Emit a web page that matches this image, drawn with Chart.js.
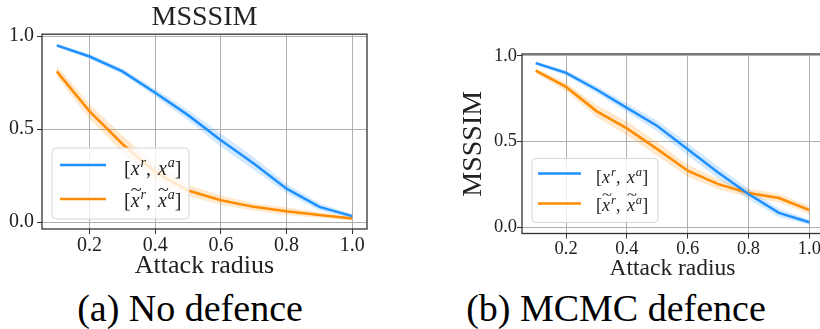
<!DOCTYPE html>
<html>
<head>
<meta charset="utf-8">
<script src="https://cdn.jsdelivr.net/npm/chart.js@4.4.1/dist/chart.umd.min.js"></script>
<style>
	html, body { margin: 0; padding: 0; background: #fff; }
	#wrap { position: relative; width: 820px; height: 329px; overflow: hidden; }
	canvas { position: absolute; top: 0; }
	.cap { position: absolute; top: 289px; font: 38px 'Liberation Serif', serif; line-height: 38px; color: #000; text-align: center; white-space: nowrap; }
</style>
</head>
<body>
<div id="wrap">
	<canvas id="left" width="380" height="285" style="left:0px"></canvas>
	<canvas id="right" width="400" height="285" style="left:440px"></canvas>
	<div class="cap" style="left:40px;width:300px">(a) No defence</div>
	<div class="cap" style="left:466px;width:300px">(b) MCMC defence</div>
</div>
<script>
// attack radius
const radius = [0.1, 0.2, 0.3, 0.4, 0.5, 0.6, 0.7, 0.8, 0.9, 1.0];
const xTicks = [0.2, 0.4, 0.6, 0.8, 1.0];
const yTicks = [0.0, 0.5, 1.0];
const seriesLabels = ['[xʳ, xᵃ]', '[x̃ʳ, x̃ᵃ]'];

// (a) no defence
const noDefReal = [0.95, 0.89, 0.81, 0.695, 0.575, 0.44, 0.315, 0.18, 0.082, 0.032];
const noDefRealLow = [0.94, 0.878, 0.795, 0.675, 0.547, 0.405, 0.282, 0.155, 0.062, 0.022];
const noDefRealHigh = [0.96, 0.902, 0.825, 0.715, 0.603, 0.475, 0.348, 0.205, 0.102, 0.042];
const noDefTilde = [0.81, 0.595, 0.42, 0.27, 0.17, 0.118, 0.082, 0.058, 0.038, 0.02];
const noDefTildeLow = [0.78, 0.555, 0.375, 0.23, 0.14, 0.093, 0.062, 0.038, 0.023, 0.01];
const noDefTildeHigh = [0.84, 0.635, 0.465, 0.31, 0.2, 0.143, 0.102, 0.078, 0.053, 0.03];

// (b) MCMC defence
const mcmcReal = [0.957, 0.90, 0.803, 0.696, 0.59, 0.455, 0.319, 0.193, 0.083, 0.029];
const mcmcRealLow = [0.947, 0.885, 0.783, 0.671, 0.56, 0.42, 0.284, 0.163, 0.058, 0.014];
const mcmcRealHigh = [0.967, 0.915, 0.823, 0.721, 0.62, 0.49, 0.354, 0.223, 0.108, 0.044];
const mcmcTilde = [0.913, 0.818, 0.677, 0.576, 0.455, 0.329, 0.251, 0.199, 0.17, 0.10];
const mcmcTildeLow = [0.898, 0.793, 0.642, 0.536, 0.415, 0.294, 0.221, 0.174, 0.145, 0.075];
const mcmcTildeHigh = [0.928, 0.843, 0.712, 0.616, 0.495, 0.364, 0.281, 0.224, 0.195, 0.125];

const BLUE = '#1e90ff';
const ORANGE = '#ff8c00';
const SERIF = "'Liberation Serif', serif";

Chart.defaults.font.family = SERIF;
Chart.defaults.color = '#222';

function pts(ys) {
	return radius.map((x, i) => ({ x: x, y: ys[i] }));
}

function makeDatasets(real, realLo, realHi, tilde, tildeLo, tildeHi) {
	return [
		{ label: seriesLabels[0], data: pts(real), borderColor: BLUE, borderWidth: 2.5, pointRadius: 0, fill: false, order: 0 },
		{ label: seriesLabels[1], data: pts(tilde), borderColor: ORANGE, borderWidth: 2.5, pointRadius: 0, fill: false, order: 0 },
		{ label: 'lo1', data: pts(realLo), borderWidth: 0, pointRadius: 0, fill: false, order: 1 },
		{ label: 'hi1', data: pts(realHi), borderWidth: 0, pointRadius: 0, fill: { target: 2 }, backgroundColor: 'rgba(30,144,255,0.2)', order: 1 },
		{ label: 'lo2', data: pts(tildeLo), borderWidth: 0, pointRadius: 0, fill: false, order: 1 },
		{ label: 'hi2', data: pts(tildeHi), borderWidth: 0, pointRadius: 0, fill: { target: 4 }, backgroundColor: 'rgba(255,140,0,0.2)', order: 1 },
	];
}

// box around the plot, like matplotlib spines
const framePlugin = {
	id: 'frame',
	afterDatasetsDraw(chart) {
		const a = chart.chartArea, ctx = chart.ctx;
		ctx.save();
		ctx.strokeStyle = '#333';
		ctx.lineWidth = 1.3;
		ctx.strokeRect(a.left, a.top, a.right - a.left, a.bottom - a.top);
		ctx.restore();
	}
};

// draws '[xʳ, xᵃ]' style label: italic x, raised small superscripts, tilde over x
function drawMath(ctx, text, x, y, size) {
	const base = y + size * 0.3;
	const chars = Array.from(text);
	let cx = x;
	let lastX = null;
	for (const ch of chars) {
		if (ch === 'ʳ' || ch === 'ᵃ') {
			const s = ch === 'ʳ' ? 'r' : 'a';
			ctx.font = 'italic ' + (size * 0.7) + 'px ' + SERIF;
			ctx.fillText(s, cx + 1, base - size * 0.4);
			cx += ctx.measureText(s).width + 1;
		} else if (ch === '\u0303') {
			if (lastX) {
				ctx.save();
				ctx.font = (size * 0.8) + 'px ' + SERIF;
				const tw = ctx.measureText('~').width;
				ctx.translate(lastX.x + lastX.w / 2 + 1, base - size * 0.62);
				ctx.scale((lastX.w + 2) / tw, 1);
				ctx.textAlign = 'center';
				ctx.fillText('~', 0, 0);
				ctx.restore();
			}
		} else if (ch === 'x') {
			ctx.font = 'italic ' + size + 'px ' + SERIF;
			const w = ctx.measureText('x').width;
			ctx.fillText('x', cx, base);
			lastX = { x: cx, w: w };
			cx += w;
		} else {
			ctx.font = size + 'px ' + SERIF;
			ctx.fillText(ch, cx, base);
			cx += ctx.measureText(ch).width + (ch === ',' ? 2 : 0);
		}
	}
}

// legend drawn inside the plot, lower left
const boxLegend = {
	id: 'boxLegend',
	afterDraw(chart, args, o) {
		const a = chart.chartArea, ctx = chart.ctx;
		const x0 = a.left + o.left;
		const y0 = a.bottom - o.bottom - o.height;
		ctx.save();
		ctx.beginPath();
		ctx.roundRect(x0, y0, o.width, o.height, 4);
		ctx.fillStyle = 'rgba(255,255,255,0.8)';
		ctx.fill();
		ctx.strokeStyle = '#d6d6d6';
		ctx.lineWidth = 1;
		ctx.stroke();
		const colors = [BLUE, ORANGE];
		for (let i = 0; i < 2; i++) {
			const y = y0 + o.firstRow + i * o.rowGap;
			ctx.beginPath();
			ctx.moveTo(x0 + o.lineStart, y);
			ctx.lineTo(x0 + o.lineStart + o.lineLen, y);
			ctx.strokeStyle = colors[i];
			ctx.lineWidth = 2.5;
			ctx.stroke();
			ctx.fillStyle = '#222';
			ctx.textBaseline = 'alphabetic';
			drawMath(ctx, seriesLabels[i], x0 + o.textStart, y + (i === 0 ? 4 : 2), o.fontSize);
		}
		ctx.restore();
	}
};

function makeConfig(datasets, opt) {
	return {
		type: 'line',
		data: { datasets: datasets },
		plugins: [framePlugin, boxLegend],
		options: {
			responsive: false,
			animation: false,
			devicePixelRatio: 1,
			layout: { padding: opt.padding },
			elements: { line: { tension: 0 } },
			plugins: {
				legend: { display: false },
				tooltip: { enabled: false },
				title: opt.title,
				boxLegend: opt.legend,
			},
			scales: {
				x: {
					type: 'linear',
					min: 0.055,
					max: 1.045,
					afterBuildTicks: (s) => { s.ticks = xTicks.map(v => ({ value: v })); },
					afterFit: (s) => { s.height = opt.xHeight; },
					ticks: {
						padding: 0,
						color: '#222',
						font: { family: SERIF, size: opt.tickSize },
						callback: (v) => v.toFixed(1),
					},
					grid: { color: '#b0b0b0', lineWidth: 1, tickColor: '#333', tickLength: 5 },
					border: { display: false },
					title: {
						display: true,
						text: 'Attack radius',
						color: '#222',
						font: { family: SERIF, size: opt.xTitleSize },
						padding: { top: 0, bottom: opt.xTitleBottom },
					},
				},
				y: {
					type: 'linear',
					min: -0.037,
					max: 1.01,
					afterBuildTicks: (s) => { s.ticks = yTicks.map(v => ({ value: v })); },
					afterFit: (s) => { s.width = opt.yWidth; },
					ticks: {
						padding: opt.yTickPad,
						color: '#222',
						font: { family: SERIF, size: opt.tickSize },
						callback: (v) => v.toFixed(1),
					},
					grid: { color: '#b0b0b0', lineWidth: 1, tickColor: '#333', tickLength: 5 },
					border: { display: false },
					title: opt.yTitle,
				},
			},
		},
	};
}

new Chart(document.getElementById('left'), makeConfig(
	makeDatasets(noDefReal, noDefRealLow, noDefRealHigh, noDefTilde, noDefTildeLow, noDefTildeHigh),
	{
		padding: { left: 0, right: 13, top: 0, bottom: 0 },
		title: { display: true, fullSize: false, text: 'MSSSIM', color: '#222', font: { family: SERIF, size: 28, weight: 'normal', lineHeight: 1.15 }, padding: { top: 2, bottom: 0 } },
		legend: { left: 10, bottom: 10, width: 137, height: 71, firstRow: 17, rowGap: 34, lineStart: 8, lineLen: 46, textStart: 72, fontSize: 20 },
		xHeight: 56,
		tickSize: 20,
		xTitleSize: 26,
		xTitleBottom: 3,
		yWidth: 42,
		yTickPad: 3,
		yTitle: { display: false },
	}
));

new Chart(document.getElementById('right'), makeConfig(
	makeDatasets(mcmcReal, mcmcRealLow, mcmcRealHigh, mcmcTilde, mcmcTildeLow, mcmcTildeHigh),
	{
		padding: { left: 0, right: 17, top: 54, bottom: 0 },
		title: { display: false },
		legend: { left: 10, bottom: 11, width: 126, height: 64, firstRow: 15, rowGap: 30, lineStart: 6, lineLen: 43, textStart: 64, fontSize: 18 },
		xHeight: 51.5,
		tickSize: 18.5,
		xTitleSize: 23.5,
		xTitleBottom: 2,
		yWidth: 82,
		yTickPad: 0,
		yTitle: { display: true, text: 'MSSSIM', color: '#222', font: { family: SERIF, size: 28 }, padding: { top: 17, bottom: 0 } },
	}
));
</script>
</body>
</html>
